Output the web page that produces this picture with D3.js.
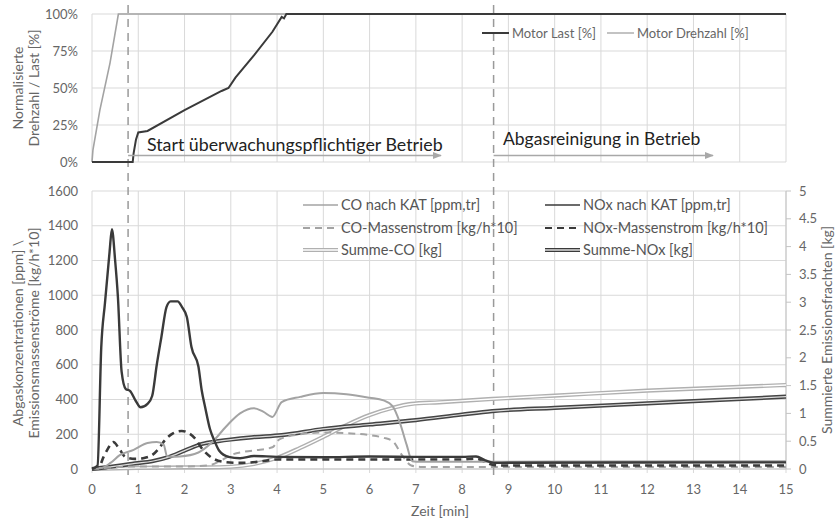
<!DOCTYPE html>
<html><head><meta charset="utf-8">
<script src="https://cdn.jsdelivr.net/npm/d3@7"></script>
<style>
body{margin:0;background:#fff;}
text{font-family:Lato,"Open Sans",sans-serif;}
</style></head>
<body><svg id="c" width="839" height="521"></svg>
<script>
// ---------- data ----------
const xTicks = [0,1,2,3,4,5,6,7,8,9,10,11,12,13,14,15];
const topTicks = [0,0.25,0.5,0.75,1];
const leftTicks = [0,200,400,600,800,1000,1200,1400,1600];
const rightTicks = [0,0.5,1,1.5,2,2.5,3,3.5,4,4.5,5];
const markerTimes = [0.78, 8.68];

const drehzahlT = [0, 0.02, 0.17, 0.39, 0.57, 15];
const drehzahlV = [0, 8, 35, 67, 100, 100];
const lastT = [0, 0.88, 0.9, 0.95, 1.0, 1.2, 2.0, 2.8, 2.95, 3.1, 3.5, 3.9, 4.1, 4.15, 4.2, 15];
const lastV = [0, 0, 6, 15, 20, 21, 35, 48, 50, 57, 72, 88, 98, 97, 100, 100];

const noxT = [0,0.12,0.2,0.28,0.38,0.43,0.5,0.56,0.64,0.73,0.82,0.95,1.05,1.2,1.3,1.4,1.5,1.61,1.7,1.85,1.95,2.05,2.15,2.3,2.37,2.45,2.55,2.65,2.75,2.95,3.2,3.5,4.0,5.0,6.0,7.0,8.0,8.3,8.5,8.7,9,15];
const noxV = [0,20,700,955,1250,1380,1200,990,560,460,450,390,355,375,420,600,760,932,965,965,930,875,702,590,455,350,230,160,105,70,62,75,70,68,72,70,70,72,50,35,36,38];

const coT = [0,0.2,0.4,0.6,0.9,1.2,1.4,1.55,1.62,1.7,1.9,2.3,2.6,2.9,3.2,3.5,3.7,3.9,4.1,4.5,5.0,5.5,6.0,6.3,6.5,6.65,6.8,6.92,7.1,15];
const coV = [0,5,35,80,110,150,155,140,75,70,72,95,155,245,320,350,330,300,385,415,437,430,410,395,360,270,140,45,42,45];

const coMassT = [0,0.5,1.0,1.5,2.0,2.5,2.8,3.0,3.3,3.6,3.9,4.05,4.5,5.0,5.6,6.0,6.3,6.5,6.7,6.9,7.1,15];
const coMassV = [0,10,15,15,15,20,50,80,100,110,125,170,200,210,205,195,180,160,80,20,12,12];

const noxMassT = [0,0.15,0.25,0.33,0.46,0.58,0.72,0.93,1.1,1.3,1.45,1.58,1.75,1.94,2.1,2.22,2.4,2.6,2.87,3.2,3.6,4.0,5,6,7,8,8.3,8.5,8.7,9,15];
const noxMassV = [0,10,70,110,155,120,70,58,62,80,120,167,205,219,205,178,110,63,40,35,42,55,55,55,55,55,60,40,22,20,20];

const sumCoT = [0,1,2,2.5,3.0,3.5,4.0,4.5,5.0,5.5,6.0,6.5,6.9,7.5,8.65,10,12,15];
const sumCoV = [0,0.02,0.03,0.03,0.04,0.09,0.2,0.38,0.58,0.79,0.97,1.1,1.17,1.2,1.26,1.32,1.41,1.51];

const sumNoxT = [0,0.3,0.6,0.93,1.3,1.64,2.0,2.37,2.73,3.0,3.45,4.1,5.0,6.0,7.0,8.0,8.65,10,12,15];
const sumNoxV = [0,0.03,0.06,0.1,0.14,0.21,0.33,0.45,0.5,0.53,0.57,0.61,0.72,0.8,0.88,0.98,1.04,1.1,1.18,1.3];

// ---------- layout ----------
const svg = d3.select("#c");
const X0 = 92, X1 = 786;
const x = d3.scaleLinear().domain([0,15]).range([X0,X1]);
const yTop = d3.scaleLinear().domain([0,1]).range([162,14]);
const yL = d3.scaleLinear().domain([0,1600]).range([469,191]);
const yR = d3.scaleLinear().domain([0,5]).range([469,191]);
const grid = "#d9d9d9", dark = "#3a3a3a", light = "#a3a3a3", lab = "#666";
const zip = (t,v) => t.map((d,i)=>[d,v[i]]);

// ---------- top panel grid ----------
const gT = svg.append("g");
gT.selectAll(".vg").data(xTicks).join("line")
  .attr("x1",d=>x(d)).attr("x2",d=>x(d)).attr("y1",yTop(1)).attr("y2",yTop(0))
  .attr("stroke",grid).attr("stroke-width",1);
gT.selectAll(".hg").data(topTicks).join("line")
  .attr("x1",X0).attr("x2",X1).attr("y1",d=>yTop(d)).attr("y2",d=>yTop(d))
  .attr("stroke",grid).attr("stroke-width",1);
gT.selectAll(".tl").data(topTicks).join("text")
  .attr("x",78).attr("y",d=>yTop(d)+4.5).attr("text-anchor","end")
  .attr("font-size",13).attr("fill",lab).text(d=>Math.round(d*100)+"%");

// ---------- bottom panel grid ----------
const gB = svg.append("g");
gB.selectAll(".vg").data(xTicks).join("line")
  .attr("x1",d=>x(d)).attr("x2",d=>x(d)).attr("y1",yL(1600)).attr("y2",yL(0)+4)
  .attr("stroke",grid).attr("stroke-width",1);
gB.selectAll(".hg").data(leftTicks).join("line")
  .attr("x1",X0).attr("x2",X1).attr("y1",d=>yL(d)).attr("y2",d=>yL(d))
  .attr("stroke",grid).attr("stroke-width",1);
gB.append("line").attr("x1",X0).attr("x2",X1).attr("y1",yL(0)).attr("y2",yL(0)).attr("stroke","#c4c4c4");
gB.append("line").attr("x1",X1).attr("x2",X1).attr("y1",yR(5)).attr("y2",yR(0)).attr("stroke","#c4c4c4");
gB.selectAll(".rt").data(rightTicks).join("line")
  .attr("x1",X1).attr("x2",X1+5).attr("y1",d=>yR(d)).attr("y2",d=>yR(d)).attr("stroke","#c4c4c4");
gB.selectAll(".ll").data(leftTicks).join("text")
  .attr("x",78).attr("y",d=>yL(d)+4.5).attr("text-anchor","end")
  .attr("font-size",13).attr("fill",lab).text(d=>d);
gB.selectAll(".rl").data(rightTicks).join("text")
  .attr("x",799).attr("y",d=>yR(d)+4.5).attr("text-anchor","start")
  .attr("font-size",13).attr("fill",lab).text(d=>d);
gB.selectAll(".xl").data(xTicks).join("text")
  .attr("x",d=>x(d)).attr("y",494).attr("text-anchor","middle")
  .attr("font-size",13).attr("fill",lab).text(d=>d);

// axis titles
svg.append("text").attr("transform","translate(440,516)").attr("text-anchor","middle")
  .attr("font-size",14).attr("fill",lab).text("Zeit [min]");
const tt = svg.append("text").attr("transform","translate(23,88) rotate(-90)").attr("text-anchor","middle")
  .attr("font-size",14).attr("fill",lab);
tt.append("tspan").attr("x",0).attr("dy",0).text("Normalisierte");
tt.append("tspan").attr("x",0).attr("dy",16).text("Drehzahl / Last [%]");
const lt = svg.append("text").attr("transform","translate(23,333) rotate(-90)").attr("text-anchor","middle")
  .attr("font-size",14).attr("fill",lab);
lt.append("tspan").attr("x",0).attr("dy",0).text("Abgaskonzentrationen [ppm] \\");
lt.append("tspan").attr("x",0).attr("dy",16).text("Emissionsmassenströme [kg/h*10]");
svg.append("text").attr("transform","translate(832,330) rotate(-90)").attr("text-anchor","middle")
  .attr("font-size",14).attr("fill",lab).text("Summierte Emissionsfrachten [kg]");

// ---------- marker lines ----------
svg.selectAll(".mk").data(markerTimes).join("line")
  .attr("x1",d=>x(d)).attr("x2",d=>x(d)).attr("y1",5).attr("y2",476)
  .attr("stroke","#9a9a9a").attr("stroke-width",1.5).attr("stroke-dasharray","8,6");

// ---------- top lines ----------
const lineTop = d3.line().x(d=>x(d[0])).y(d=>yTop(d[1]/100));
svg.append("path").attr("d",lineTop(zip(drehzahlT,drehzahlV))).attr("fill","none")
  .attr("stroke",light).attr("stroke-width",1.6);
svg.append("path").attr("d",lineTop(zip(lastT,lastV))).attr("fill","none")
  .attr("stroke",dark).attr("stroke-width",2);

// top legend
const tl = svg.append("g");
tl.append("line").attr("x1",482).attr("x2",509).attr("y1",33).attr("y2",33).attr("stroke",dark).attr("stroke-width",2);
tl.append("text").attr("x",512).attr("y",37.5).attr("font-size",13).attr("fill",lab).text("Motor Last [%]");
tl.append("line").attr("x1",607).attr("x2",634).attr("y1",33).attr("y2",33).attr("stroke",light).attr("stroke-width",1.3);
tl.append("text").attr("x",637).attr("y",37.5).attr("font-size",13).attr("fill",lab).text("Motor Drehzahl [%]");

// annotations with arrows
const defs = svg.append("defs");
defs.append("marker").attr("id","arr").attr("viewBox","0 0 10 10").attr("refX",9).attr("refY",5)
  .attr("markerWidth",6).attr("markerHeight",6).attr("orient","auto")
  .append("path").attr("d","M0,1 L10,5 L0,9 Z").attr("fill","#a8a8a8");
svg.append("line").attr("x1",x(markerTimes[0])).attr("x2",441).attr("y1",155.5).attr("y2",155.5)
  .attr("stroke","#a8a8a8").attr("stroke-width",1.5).attr("marker-end","url(#arr)");
svg.append("line").attr("x1",x(markerTimes[1])).attr("x2",713).attr("y1",155.5).attr("y2",155.5)
  .attr("stroke","#a8a8a8").attr("stroke-width",1.5).attr("marker-end","url(#arr)");
svg.append("text").attr("x",147).attr("y",151).attr("font-size",17.8).attr("fill","#222")
  .text("Start überwachungspflichtiger Betrieb");
svg.append("text").attr("x",503).attr("y",145).attr("font-size",17.5).attr("fill","#222")
  .text("Abgasreinigung in Betrieb");

// ---------- bottom lines ----------
const lineL = d3.line().x(d=>x(d[0])).y(d=>yL(d[1])).curve(d3.curveMonotoneX);
const lineR = d3.line().x(d=>x(d[0])).y(d=>yR(d[1])).curve(d3.curveMonotoneX);
const g2 = svg.append("g").attr("fill","none");
// sums (double lines)
g2.append("path").attr("d",lineR(zip(sumCoT,sumCoV))).attr("stroke","#b0b0b0").attr("stroke-width",4.2);
g2.append("path").attr("d",lineR(zip(sumCoT,sumCoV))).attr("stroke","#fff").attr("stroke-width",1.4);
g2.append("path").attr("d",lineR(zip(sumNoxT,sumNoxV))).attr("stroke","#444").attr("stroke-width",4.2);
g2.append("path").attr("d",lineR(zip(sumNoxT,sumNoxV))).attr("stroke","#ddd").attr("stroke-width",1.2);
// mass flows
g2.append("path").attr("d",lineL(zip(coMassT,coMassV))).attr("stroke",light).attr("stroke-width",2).attr("stroke-dasharray","7,5");
g2.append("path").attr("d",lineL(zip(noxMassT,noxMassV))).attr("stroke",dark).attr("stroke-width",2.6).attr("stroke-dasharray","7,5");
// concentrations
g2.append("path").attr("d",lineL(zip(coT,coV))).attr("stroke",light).attr("stroke-width",2);
g2.append("path").attr("d",lineL(zip(noxT,noxV))).attr("stroke",dark).attr("stroke-width",2.4);

// bottom legend
const lg = svg.append("g");
const legRows = [205,228,250];
function legItem(x0, y, type, color, label){
  if(type==="solid") lg.append("line").attr("x1",x0).attr("x2",x0+35).attr("y1",y).attr("y2",y).attr("stroke",color).attr("stroke-width",1.6);
  if(type==="dash") lg.append("line").attr("x1",x0).attr("x2",x0+35).attr("y1",y).attr("y2",y).attr("stroke",color).attr("stroke-width",2).attr("stroke-dasharray","7,5");
  if(type==="double"){
    lg.append("line").attr("x1",x0).attr("x2",x0+35).attr("y1",y).attr("y2",y).attr("stroke",color).attr("stroke-width",4.2);
    lg.append("line").attr("x1",x0).attr("x2",x0+35).attr("y1",y).attr("y2",y).attr("stroke",color===dark?"#ddd":"#fff").attr("stroke-width",1.3);
  }
  lg.append("text").attr("x",x0+38).attr("y",y+5).attr("font-size",14.5).attr("fill","#555").text(label);
}
legItem(303,legRows[0],"solid",light,"CO nach KAT [ppm,tr]");
legItem(303,legRows[1],"dash",light,"CO-Massenstrom [kg/h*10]");
legItem(303,legRows[2],"double","#b0b0b0","Summe-CO [kg]");
legItem(545,legRows[0],"solid",dark,"NOx nach KAT [ppm,tr]");
legItem(545,legRows[1],"dash",dark,"NOx-Massenstrom [kg/h*10]");
legItem(545,legRows[2],"double",dark,"Summe-NOx [kg]");
</script></body></html>
